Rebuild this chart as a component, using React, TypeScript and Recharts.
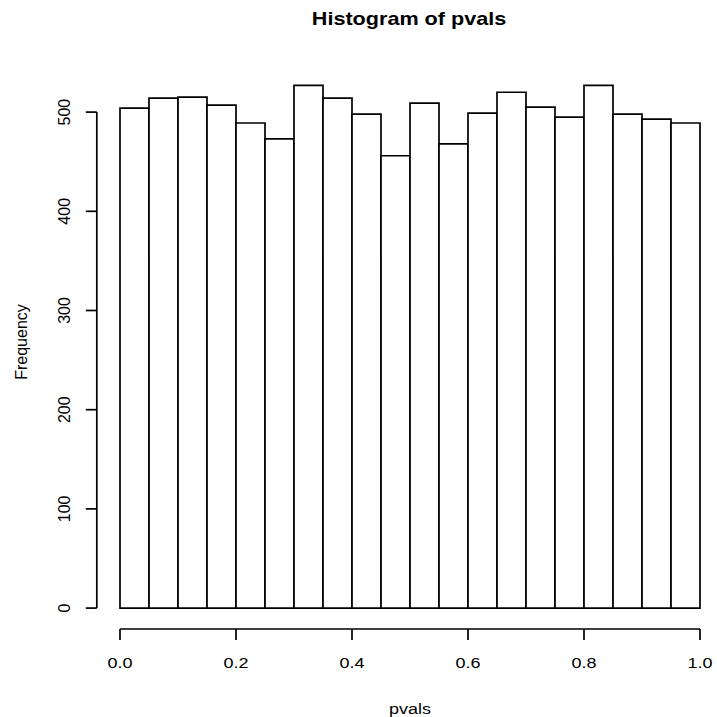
import React from "react";
import { Bar, BarChart, ReferenceLine, XAxis, YAxis } from "recharts";

const binStarts = [0, 0.05, 0.1, 0.15, 0.2, 0.25, 0.3, 0.35, 0.4, 0.45, 0.5, 0.55, 0.6, 0.65, 0.7, 0.75, 0.8, 0.85, 0.9, 0.95];
const counts = [504, 514, 515, 507, 489, 473, 527, 514, 498, 456, 509, 468, 499, 520, 505, 495, 527, 498, 493, 489];
const xTicks = [0, 0.2, 0.4, 0.6, 0.8, 1];
const yTicks = [0, 100, 200, 300, 400, 500];

const data = binStarts.map((lo, i) => ({ bin: String(i), lo, count: counts[i] }));

// R pads each axis range by 4%
const yMax = Math.max(...counts);
const yDomain = [-0.04 * yMax, 1.04 * yMax];

const FONT = '"Liberation Sans", Arial, Helvetica, sans-serif';
const INK = "#000";

function XTick({ x, y, payload }: any) {
  return (
    <g transform={`translate(${x},${y + 28}) scale(1.2,1)`}>
      <text textAnchor="middle" fontSize={15} fontFamily={FONT} fill={INK}>
        {Number(payload.value).toFixed(1)}
      </text>
    </g>
  );
}

function YTick({ x, y, payload }: any) {
  return (
    <text transform={`translate(${x},${y}) rotate(-90)`} textAnchor="middle" fontSize={16} fontFamily={FONT} fill={INK}>
      {payload.value}
    </text>
  );
}

export default function App() {
  return (
    <div style={{ position: "fixed", left: 0, top: 0, width: 717, height: 717, overflow: "hidden", background: "#fff" }}>
      <BarChart width={740} height={717} data={data} barCategoryGap={0} barGap={0}
        margin={{ top: 64.4, right: 16.8, bottom: 0, left: 0 }}>
        <XAxis xAxisId="bins" dataKey="bin" type="category" hide height={0} padding={{ left: 23.2, right: 23.2 }} />
        <XAxis xAxisId="p" dataKey="lo" type="number" domain={[-0.04, 1.04]} allowDataOverflow ticks={xTicks}
          height={88} axisLine={false} tickSize={11} tickMargin={0}
          tickLine={{ stroke: INK, strokeWidth: 1.7 }} tick={<XTick />} interval={0} />
        <YAxis domain={yDomain} allowDataOverflow ticks={yTicks} width={96.8} axisLine={false}
          tickSize={11} tickMargin={16} tickLine={{ stroke: INK, strokeWidth: 1.7 }} tick={<YTick />} interval={0} />
        <Bar xAxisId="bins" dataKey="count" fill="#fff" stroke={INK} strokeWidth={1.7} isAnimationActive={false} />
        <ReferenceLine xAxisId="p" ifOverflow="visible" stroke={INK} strokeWidth={1.7}
          segment={[{ x: 0, y: yDomain[0] }, { x: 1, y: yDomain[0] }]} />
        <ReferenceLine xAxisId="p" ifOverflow="visible" stroke={INK} strokeWidth={1.7}
          segment={[{ x: -0.04, y: 0 }, { x: -0.04, y: 500 }]} />
      </BarChart>
      <svg width={717} height={717} style={{ position: "absolute", left: 0, top: 0, pointerEvents: "none" }}>
        <g transform="translate(409,25) scale(1.2,1)">
          <text textAnchor="middle" fontSize={18} fontWeight="bold" fontFamily={FONT} fill={INK}>Histogram of pvals</text>
        </g>
        <g transform="translate(410,714) scale(1.2,1)">
          <text textAnchor="middle" fontSize={15} fontFamily={FONT} fill={INK}>pvals</text>
        </g>
        <text transform="translate(26.5,342) rotate(-90)" textAnchor="middle" fontSize={16} fontFamily={FONT} fill={INK}>
          Frequency
        </text>
      </svg>
    </div>
  );
}
